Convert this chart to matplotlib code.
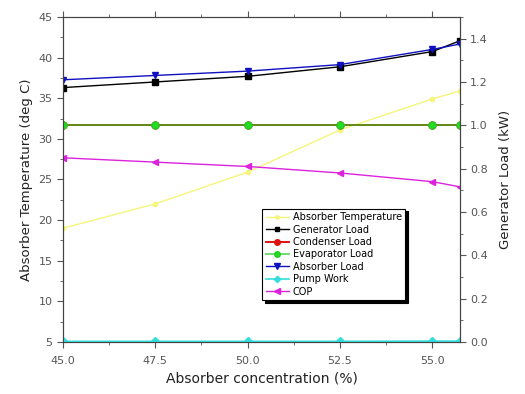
import matplotlib.pyplot as plt
from matplotlib.ticker import MultipleLocator

# concentration (%)
conc = [45.0, 47.5, 50.0, 52.5, 55.0, 55.75]

# left axis (deg C)
absorber_temp = [19.0, 22.0, 25.9, 31.1, 34.9, 35.9]

# right axis (kW)
generator_load = [1.174, 1.20, 1.226, 1.27, 1.34, 1.39]
condenser_load = [1.0, 1.0, 1.0, 1.0, 1.0, 1.0]
evaporator_load = [1.0, 1.0, 1.0, 1.0, 1.0, 1.0]
absorber_load = [1.21, 1.23, 1.25, 1.28, 1.35, 1.375]
pump_work = [0.003, 0.003, 0.003, 0.003, 0.004, 0.004]
cop = [0.85, 0.83, 0.81, 0.78, 0.74, 0.716]

fig = plt.figure(figsize=(5.25, 3.94), dpi=100)
ax = fig.add_axes([0.12, 0.132, 0.756, 0.825])
ax2 = ax.twinx()

tick_col = "#555555"

h1, = ax.plot(conc, absorber_temp, color="#f5f57a", marker="o", ms=3, lw=1,
              label="Absorber Temperature")
h2, = ax2.plot(conc, generator_load, color="black", marker="s", ms=4, lw=1,
               label="Generator Load")
h3, = ax2.plot(conc, condenser_load, color="#e01010", marker="o", ms=5, lw=1.4,
               label="Condenser Load")
# semi-transparent green line over red gives the olive look of the overlap
h4, = ax2.plot(conc, evaporator_load, color=(0.13, 0.8, 0.13, 0.65), marker="o",
               ms=5, lw=1.4, mfc="#22dd22", mec="#22cc22",
               label="Evaporator Load")
h5, = ax2.plot(conc, absorber_load, color="#1010c0", marker="v", ms=5, lw=1,
               label="Absorber Load")
h6, = ax2.plot(conc, pump_work, color="#33dddd", marker="D", ms=4, lw=1.2,
               label="Pump Work")
h7, = ax2.plot(conc, cop, color="#dd22dd", marker="<", ms=5, lw=1,
               label="COP")

ax.set_xlim(45, 55.75)
ax.set_ylim(5, 45)
ax2.set_ylim(0, 1.5)

ax.xaxis.set_minor_locator(MultipleLocator(1.25))
ax.yaxis.set_major_locator(MultipleLocator(5))
ax.yaxis.set_minor_locator(MultipleLocator(2.5))
ax2.yaxis.set_minor_locator(MultipleLocator(0.1))
ax2.set_yticks([0.0, 0.2, 0.4, 0.6, 0.8, 1.0, 1.2, 1.4])
ax.set_xticks([45.0, 47.5, 50.0, 52.5, 55.0])
ax.set_xticklabels(["45.0", "47.5", "50.0", "52.5", "55.0"])

ax.tick_params(which="both", direction="out", top=True, colors=tick_col,
               labelsize=8, length=4)
ax.tick_params(which="minor", length=2)
ax2.tick_params(which="both", direction="out", colors=tick_col, labelsize=8, length=4)
ax2.tick_params(which="minor", length=2)
ax.tick_params(axis="x", pad=6)
for a in (ax, ax2):
    for s in a.spines.values():
        s.set_color("#444444")

ax.set_xlabel("Absorber concentration (%)", fontsize=10, color="#222222")
ax.set_ylabel("Absorber Temperature (deg C)", fontsize=9.5, color="#222222")
ax2.set_ylabel("Generator Load (kW)", fontsize=9.5, color="#222222", labelpad=8)

leg = ax2.legend(handles=[h1, h2, h3, h4, h5, h6, h7], loc="upper left",
                 bbox_to_anchor=(0.49, 0.425), fontsize=7, fancybox=False,
                 shadow={"color": "black", "alpha": 1}, framealpha=1,
                 edgecolor="black", handlelength=2.4, labelspacing=0.25,
                 borderpad=0.35, handletextpad=0.4, markerscale=0.8)
leg.get_frame().set_linewidth(0.8)

fig.savefig("out.png", dpi=100)
